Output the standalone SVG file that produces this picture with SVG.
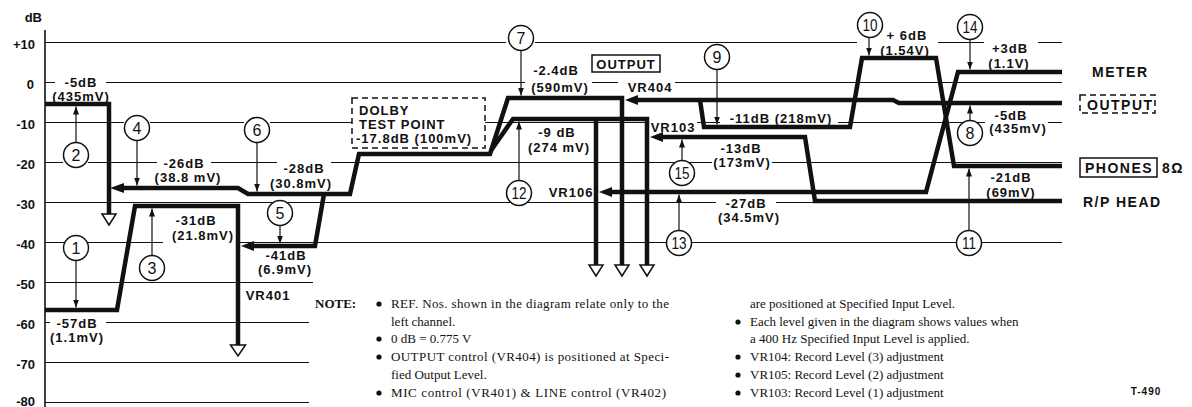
<svg xmlns="http://www.w3.org/2000/svg" width="1192" height="407" viewBox="0 0 1192 407">
<style>
.g{stroke:#111;stroke-width:1.2;fill:none}
.ax{stroke:#111;stroke-width:1.6;fill:none}
.sig{stroke:#111;stroke-width:4.5;fill:none;stroke-linejoin:miter}
.ah{fill:#111}
.ho{fill:#fff;stroke:#111;stroke-width:1.5;stroke-linejoin:miter}
.ld{stroke:#111;stroke-width:1.2;fill:none;marker-end:url(#tip)}
.rc{fill:#fff;stroke:#111;stroke-width:1.5}
.rn{font-family:"Liberation Sans",Arial,sans-serif;font-size:16px;text-anchor:middle;fill:#111}
.lb{font-family:"Liberation Sans",Arial,sans-serif;font-weight:bold;font-size:13px;letter-spacing:1px;text-anchor:middle;fill:#111}
.lbl{font-family:"Liberation Sans",Arial,sans-serif;font-weight:bold;font-size:13px;letter-spacing:1px;fill:#111}
.yl{font-family:"Liberation Sans",Arial,sans-serif;font-weight:bold;font-size:13px;text-anchor:end;fill:#111}
.rt{font-family:"Liberation Sans",Arial,sans-serif;font-weight:bold;font-size:14px;letter-spacing:1.5px;fill:#111}
.nt{font-family:"Liberation Serif","Times New Roman",serif;font-size:13px;fill:#111}
.ntb{font-family:"Liberation Serif","Times New Roman",serif;font-size:13px;font-weight:bold;fill:#111}
.bx{fill:none;stroke:#111;stroke-width:1.5}
.dbx{fill:none;stroke:#111;stroke-width:1.5;stroke-dasharray:6 4}
.bu{fill:#111}
</style>
<defs>
<marker id="tip" markerUnits="userSpaceOnUse" markerWidth="8" markerHeight="6" refX="8" refY="3" orient="auto">
<path d="M0,0L8,3L0,6z" fill="#111"/>
</marker>
</defs>

<g id="grid" class="g">
<path d="M45,42.5H506M535,42.5H857M938,42.5H984M1038,42.5H1062M45,82.5H55M106,82.5H525M592,82.5H618M675,82.5H1062M45,122.5H124M150,122.5H244M270,122.5H352M485,122.5H647M697,122.5H720M838,122.5H985M1048,122.5H1062M45,162.5H63M88,162.5H157M211,162.5H277M331,162.5H712M772,162.5H1062M45,202.5H716M776,202.5H1062M45,242.5H163M238,242.5H1062M45,282.5H313M45,322.5H50M106,322.5H309M45,362.5H309M45,402.5H309"/>
</g>

<g id="axis">
<path class="ax" d="M45,30V407"/>
<text class="yl" x="42" y="22">dB</text>
<text class="yl" x="35" y="49">+10</text>
<text class="yl" x="34" y="89">0</text>
<text class="yl" x="35" y="129">-10</text>
<text class="yl" x="35" y="169">-20</text>
<text class="yl" x="35" y="209">-30</text>
<text class="yl" x="35" y="249">-40</text>
<text class="yl" x="35" y="289">-50</text>
<text class="yl" x="35" y="329">-60</text>
<text class="yl" x="35" y="369">-70</text>
<text class="yl" x="35" y="406">-80</text>
</g>

<g id="connectors">
<g class="sig">
<path d="M45,310H117L135,206H238V345"/>
<path d="M45,104H109V214"/>
<path d="M122,188H238L248,194H350L359,154H490L508,98H622V265"/>
<path d="M252,246H315L324,194"/>
<path d="M491.3,150L513,119H647V265M596,119V265"/>
<path d="M636,100H893L899,103H1062"/>
<path d="M700,100L704,127H850L862,58H936L954,166H1062"/>
<path d="M610,192H926L958,72H1062"/>
<path d="M661,137H805L815,201H1062"/>
</g>
<polygon class="ah" points="110,188 124,183 124,193"/>
<polygon class="ah" points="241,246 254,241 254,251"/>
<polygon class="ah" points="625,100 638,95 638,105"/>
<polygon class="ah" points="599,192 612,187 612,197"/>
<polygon class="ah" points="650,137 663,132 663,142"/>
<polygon class="ho" points="230.5,345 245.5,345 238,356"/>
<polygon class="ho" points="102,214 116,214 109,225"/>
<polygon class="ho" points="589,265 603,265 596,276"/>
<polygon class="ho" points="615,265 629,265 622,276"/>
<polygon class="ho" points="640,265 654,265 647,276"/>
<g class="ld">
<path d="M76,260.5V307.5"/>
<path d="M76,142.5V106.5"/>
<path d="M152,255.5V208.5"/>
<path d="M137,140.5V185.5"/>
<path d="M280,225.5V243.5"/>
<path d="M257,142.5V191.5"/>
<path d="M521,50.5V95.5"/>
<path d="M970,120.5V105.5"/>
<path d="M717,69.5V124.5"/>
<path d="M869,37.5V55.5"/>
<path d="M969,230.5V168.5"/>
<path d="M519,180.5V121.5"/>
<path d="M679,230.5V194.5"/>
<path d="M970,39.5V69.5"/>
<path d="M682,160.5V139.5"/>
</g>
</g>

<g id="ref-1"><circle class="rc" cx="76" cy="248" r="12.5"/><text class="rn" x="76" y="253.8">1</text></g>
<g id="ref-2"><circle class="rc" cx="76" cy="155" r="12.5"/><text class="rn" x="76" y="160.8">2</text></g>
<g id="ref-3"><circle class="rc" cx="152" cy="268" r="12.5"/><text class="rn" x="152" y="273.8">3</text></g>
<g id="ref-4"><circle class="rc" cx="137" cy="128" r="12.5"/><text class="rn" x="137" y="133.8">4</text></g>
<g id="ref-5"><circle class="rc" cx="280" cy="213" r="12.5"/><text class="rn" x="280" y="218.8">5</text></g>
<g id="ref-6"><circle class="rc" cx="257" cy="130" r="12.5"/><text class="rn" x="257" y="135.8">6</text></g>
<g id="ref-7"><circle class="rc" cx="521" cy="38" r="12.5"/><text class="rn" x="521" y="43.8">7</text></g>
<g id="ref-8"><circle class="rc" cx="970" cy="133" r="12.5"/><text class="rn" x="970" y="138.8">8</text></g>
<g id="ref-9"><circle class="rc" cx="717" cy="57" r="12.5"/><text class="rn" x="717" y="62.8">9</text></g>
<g id="ref-10"><circle class="rc" cx="870" cy="25" r="12.5"/><text class="rn" x="870" y="30.8" textLength="15" lengthAdjust="spacingAndGlyphs">10</text></g>
<g id="ref-11"><circle class="rc" cx="969" cy="243" r="12.5"/><text class="rn" x="969" y="248.8" textLength="14" lengthAdjust="spacingAndGlyphs">11</text></g>
<g id="ref-12"><circle class="rc" cx="519" cy="193" r="12.5"/><text class="rn" x="519" y="198.8" textLength="15" lengthAdjust="spacingAndGlyphs">12</text></g>
<g id="ref-13"><circle class="rc" cx="679" cy="243" r="12.5"/><text class="rn" x="679" y="248.8" textLength="15" lengthAdjust="spacingAndGlyphs">13</text></g>
<g id="ref-14"><circle class="rc" cx="970" cy="27" r="12.5"/><text class="rn" x="970" y="32.8" textLength="15" lengthAdjust="spacingAndGlyphs">14</text></g>
<g id="ref-15"><circle class="rc" cx="682" cy="173" r="12.5"/><text class="rn" x="682" y="178.8" textLength="15" lengthAdjust="spacingAndGlyphs">15</text></g>

<g id="dolby-test-point">
<rect class="dbx" x="352" y="98" width="133" height="50"/>
<text class="lbl" x="359" y="115">DOLBY</text>
<text class="lbl" x="359" y="129">TEST POINT</text>
<text class="lbl" x="356" y="143">-17.8dB (100mV)</text>
</g>

<g id="output-box">
<rect class="bx" x="592" y="55" width="68" height="17"/>
<text class="lb" x="626" y="69">OUTPUT</text>
</g>

<g id="out-meter"><text class="rt" x="1092" y="77">METER</text></g>
<g id="out-output">
<rect class="dbx" x="1080" y="95" width="75" height="18"/>
<text class="rt" x="1087" y="110">OUTPUT</text>
</g>
<g id="out-phones">
<rect class="bx" x="1080" y="158" width="77" height="19"/>
<text class="rt" x="1085" y="173">PHONES</text>
<text class="rt" x="1162" y="173">8Ω</text>
</g>
<g id="out-rphead"><text class="rt" x="1083" y="207">R/P HEAD</text></g>

<g id="labels">
<text class="lb" x="81" y="87">-5dB</text>
<text class="lb" x="81" y="101">(435mV)</text>
<text class="lb" x="184" y="168">-26dB</text>
<text class="lb" x="188" y="182">(38.8 mV)</text>
<text class="lb" x="304" y="173">-28dB</text>
<text class="lb" x="301" y="188">(30.8mV)</text>
<text class="lb" x="196" y="225">-31dB</text>
<text class="lb" x="203" y="240">(21.8mV)</text>
<text class="lb" x="286" y="259.5">-41dB</text>
<text class="lb" x="285" y="274">(6.9mV)</text>
<text class="lb" x="268" y="300">VR401</text>
<text class="lb" x="77" y="328">-57dB</text>
<text class="lb" x="77" y="342">(1.1mV)</text>
<text class="lb" x="556" y="75">-2.4dB</text>
<text class="lb" x="560" y="92">(590mV)</text>
<text class="lb" x="650" y="92">VR404</text>
<text class="lb" x="557" y="137">-9 dB</text>
<text class="lb" x="559" y="152">(274 mV)</text>
<text class="lb" x="571" y="197">VR106</text>
<text class="lb" x="673" y="132">VR103</text>
<text class="lb" x="781" y="123">-11dB (218mV)</text>
<text class="lb" x="741" y="153">-13dB</text>
<text class="lb" x="742" y="167">(173mV)</text>
<text class="lb" x="746" y="208">-27dB</text>
<text class="lb" x="749" y="222">(34.5mV)</text>
<text class="lb" x="907" y="40">+ 6dB</text>
<text class="lb" x="905" y="55">(1.54V)</text>
<text class="lb" x="1010" y="53">+3dB</text>
<text class="lb" x="1009" y="68">(1.1V)</text>
<text class="lb" x="1011" y="120">-5dB</text>
<text class="lb" x="1018" y="133">(435mV)</text>
<text class="lb" x="1011" y="182">-21dB</text>
<text class="lb" x="1011" y="197">(69mV)</text>
</g>

<g id="notes">
<text class="ntb" x="315" y="308">NOTE:</text>
<circle class="bu" cx="379" cy="304" r="2.6"/>
<text class="nt" x="391" y="308" textLength="278" lengthAdjust="spacing">REF. Nos. shown in the diagram relate only to the</text>
<text class="nt" x="391" y="326">left channel.</text>
<circle class="bu" cx="379" cy="339" r="2.6"/>
<text class="nt" x="391" y="343">0 dB = 0.775 V</text>
<circle class="bu" cx="379" cy="357" r="2.6"/>
<text class="nt" x="391" y="361" textLength="278" lengthAdjust="spacing">OUTPUT control (VR404) is positioned at Speci-</text>
<text class="nt" x="391" y="379">fied Output Level.</text>
<circle class="bu" cx="379" cy="393" r="2.6"/>
<text class="nt" x="391" y="397" textLength="275" lengthAdjust="spacing">MIC control (VR401) &amp; LINE control (VR402)</text>
<text class="nt" x="750" y="308">are positioned at Specified Input Level.</text>
<circle class="bu" cx="738" cy="322" r="2.6"/>
<text class="nt" x="750" y="326">Each level given in the diagram shows values when</text>
<text class="nt" x="750" y="343">a 400 Hz Specified Input Level is applied.</text>
<circle class="bu" cx="738" cy="357" r="2.6"/>
<text class="nt" x="750" y="361">VR104: Record Level (3) adjustment</text>
<circle class="bu" cx="738" cy="375" r="2.6"/>
<text class="nt" x="750" y="379">VR105: Record Level (2) adjustment</text>
<circle class="bu" cx="738" cy="393" r="2.6"/>
<text class="nt" x="750" y="397">VR103: Record Level (1) adjustment</text>
<text class="lb" x="1146" y="395" style="font-size:10px">T-490</text>
</g>
</svg>
